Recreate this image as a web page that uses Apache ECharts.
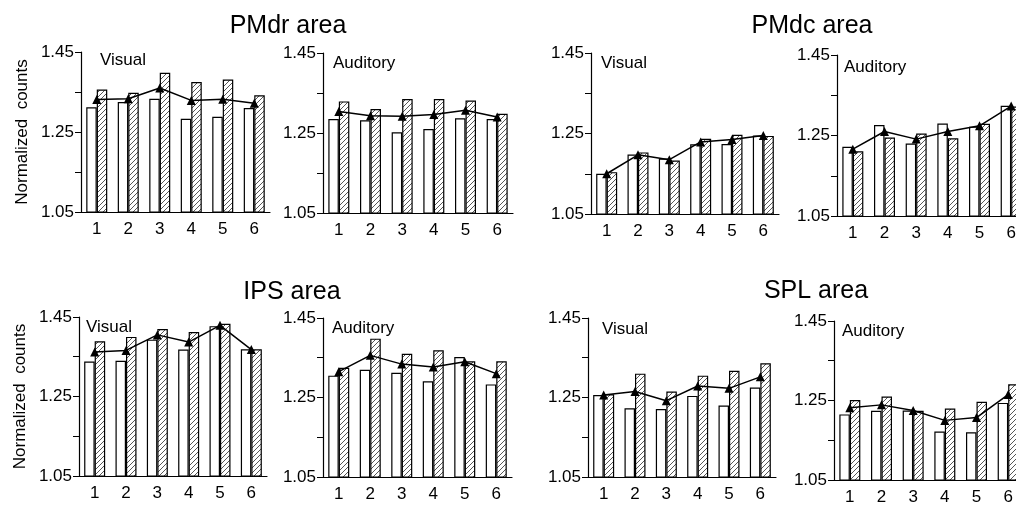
<!DOCTYPE html>
<html>
<head>
<meta charset="utf-8">
<script src="https://cdn.jsdelivr.net/npm/echarts@6/dist/echarts.min.js"></script>
<style>
  html, body { margin: 0; padding: 0; background: #fff; overflow: hidden; }
  #chart { width: 1040px; height: 507px; }
</style>
</head>
<body>
<div id="chart"></div>
<script>
// 横轴类别与纵轴刻度
const xCategories = ['1', '2', '3', '4', '5', '6'];
const yTickValues = [1.05, 1.15, 1.25, 1.35, 1.45];
const yLabelValues = [1.05, 1.25, 1.45];

// PMdr area
const pmdrVisualOpen = [1.312, 1.325, 1.333, 1.283, 1.288, 1.310];
const pmdrVisualHatched = [1.356, 1.348, 1.398, 1.375, 1.381, 1.342];
const pmdrVisualLine = [1.331, 1.333, 1.360, 1.329, 1.332, 1.322];
const pmdrAuditoryOpen = [1.285, 1.282, 1.252, 1.260, 1.287, 1.285];
const pmdrAuditoryHatched = [1.329, 1.310, 1.335, 1.335, 1.331, 1.298];
const pmdrAuditoryLine = [1.304, 1.293, 1.292, 1.296, 1.307, 1.290];

// PMdc area
const pmdcVisualOpen = [1.150, 1.198, 1.188, 1.223, 1.224, 1.245];
const pmdcVisualHatched = [1.154, 1.203, 1.183, 1.237, 1.247, 1.244];
const pmdcVisualLine = [1.150, 1.197, 1.185, 1.229, 1.235, 1.245];
const pmdcAuditoryOpen = [1.222, 1.276, 1.230, 1.280, 1.272, 1.324];
const pmdcAuditoryHatched = [1.211, 1.245, 1.255, 1.243, 1.279, 1.322];
const pmdcAuditoryLine = [1.216, 1.260, 1.241, 1.260, 1.274, 1.323];

// IPS area
const ipsVisualOpen = [1.338, 1.340, 1.393, 1.368, 1.427, 1.369];
const ipsVisualHatched = [1.389, 1.400, 1.420, 1.412, 1.433, 1.369];
const ipsVisualLine = [1.362, 1.366, 1.405, 1.387, 1.429, 1.368];
const ipsAuditoryOpen = [1.305, 1.320, 1.312, 1.291, 1.352, 1.283];
const ipsAuditoryHatched = [1.325, 1.398, 1.360, 1.369, 1.341, 1.341];
const ipsAuditoryLine = [1.315, 1.356, 1.334, 1.327, 1.340, 1.310];

// SPL area
const splVisualOpen = [1.256, 1.223, 1.221, 1.254, 1.230, 1.275];
const splVisualHatched = [1.258, 1.310, 1.265, 1.305, 1.317, 1.336];
const splVisualLine = [1.256, 1.265, 1.242, 1.279, 1.273, 1.302];
const splAuditoryOpen = [1.215, 1.224, 1.225, 1.172, 1.170, 1.244];
const splAuditoryHatched = [1.251, 1.260, 1.224, 1.230, 1.247, 1.291];
const splAuditoryLine = [1.232, 1.239, 1.225, 1.200, 1.207, 1.265];

const panelData = [
    { open: pmdrVisualOpen, hatched: pmdrVisualHatched, line: pmdrVisualLine, label: 'Visual' },
    { open: pmdrAuditoryOpen, hatched: pmdrAuditoryHatched, line: pmdrAuditoryLine, label: 'Auditory' },
    { open: pmdcVisualOpen, hatched: pmdcVisualHatched, line: pmdcVisualLine, label: 'Visual' },
    { open: pmdcAuditoryOpen, hatched: pmdcAuditoryHatched, line: pmdcAuditoryLine, label: 'Auditory' },
    { open: ipsVisualOpen, hatched: ipsVisualHatched, line: ipsVisualLine, label: 'Visual' },
    { open: ipsAuditoryOpen, hatched: ipsAuditoryHatched, line: ipsAuditoryLine, label: 'Auditory' },
    { open: splVisualOpen, hatched: splVisualHatched, line: splVisualLine, label: 'Visual' },
    { open: splAuditoryOpen, hatched: splAuditoryHatched, line: splAuditoryLine, label: 'Auditory' }
];

// 每个小图的位置 (像素)
const gridBoxes = [
    { left: 81, top: 52, width: 189, height: 160 },
    { left: 323, top: 53, width: 190, height: 160 },
    { left: 591, top: 53, width: 188, height: 161 },
    { left: 837, top: 55, width: 190, height: 161 },
    { left: 79, top: 317, width: 188, height: 159 },
    { left: 323, top: 318, width: 189, height: 159 },
    { left: 588, top: 318, width: 188, height: 159 },
    { left: 834, top: 321, width: 190, height: 159 }
];

// 区域标题
const areaTitles = [
    { text: 'PMdr area', x: 288, y: 26 },
    { text: 'PMdc area', x: 812, y: 26 },
    { text: 'IPS area', x: 292, y: 292 },
    { text: 'SPL area', x: 816, y: 291 }
];

// 小图内的 Visual / Auditory 标签位置
const innerLabelPos = [
    { x: 100, y: 60 }, { x: 333, y: 63 }, { x: 601, y: 63 }, { x: 844, y: 67 },
    { x: 86, y: 327 }, { x: 332, y: 328 }, { x: 602, y: 329 }, { x: 842, y: 331 }
];

const FONT = '"Liberation Sans", Arial, Helvetica, sans-serif';

// 斜线填充
function makeHatch() {
    const size = 5;
    const c = document.createElement('canvas');
    c.width = size;
    c.height = size;
    const ctx = c.getContext('2d');
    ctx.fillStyle = '#fff';
    ctx.fillRect(0, 0, size, size);
    ctx.strokeStyle = '#444';
    ctx.lineWidth = 0.9;
    ctx.beginPath();
    ctx.moveTo(0, size); ctx.lineTo(size, 0);
    ctx.moveTo(-1, 1); ctx.lineTo(1, -1);
    ctx.moveTo(size - 1, size + 1); ctx.lineTo(size + 1, size - 1);
    ctx.stroke();
    return c;
}

function buildOption() {
    const hatch = { image: makeHatch(), repeat: 'repeat' };
    const grid = [], xAxis = [], yAxis = [], series = [], graphic = [];

    gridBoxes.forEach((box, i) => {
        grid.push(Object.assign({ containLabel: false }, box));

        xAxis.push({
            type: 'category',
            gridIndex: i,
            data: xCategories,
            axisLine: { lineStyle: { color: '#000', width: 1.2 } },
            axisTick: { show: false },
            axisLabel: { color: '#000', fontSize: 17, fontFamily: FONT, margin: 9 },
            splitLine: { show: false }
        });

        const showName = i === 0 || i === 4;
        yAxis.push({
            type: 'value',
            gridIndex: i,
            min: 1.05,
            max: 1.45,
            name: showName ? 'Normalized  counts' : '',
            nameLocation: 'middle',
            nameRotate: 90,
            nameGap: 50,
            nameTextStyle: { color: '#000', fontSize: 17, fontFamily: FONT },
            axisLine: { show: true, lineStyle: { color: '#000', width: 1.2 } },
            axisTick: { show: true, length: 6, customValues: yTickValues, lineStyle: { color: '#000', width: 1 } },
            axisLabel: {
                color: '#000', fontSize: 17, fontFamily: FONT, margin: 7,
                customValues: yLabelValues,
                formatter: v => v.toFixed(2)
            },
            splitLine: { show: false }
        });

        const d = panelData[i];
        series.push({
            type: 'bar',
            xAxisIndex: i,
            yAxisIndex: i,
            data: d.open,
            barWidth: 10.5,
            barGap: '0%',
            itemStyle: { color: '#fff', borderColor: '#000', borderWidth: 1.2 },
            silent: true
        });
        series.push({
            type: 'bar',
            xAxisIndex: i,
            yAxisIndex: i,
            data: d.hatched,
            barWidth: 10.5,
            barGap: '0%',
            itemStyle: { color: hatch, borderColor: '#000', borderWidth: 1.2 },
            silent: true
        });
        series.push({
            type: 'line',
            xAxisIndex: i,
            yAxisIndex: i,
            data: d.line,
            symbol: 'triangle',
            symbolSize: 9,
            lineStyle: { color: '#000', width: 1.5 },
            itemStyle: { color: '#000' },
            z: 5,
            silent: true
        });

        graphic.push({
            type: 'text',
            x: innerLabelPos[i].x,
            y: innerLabelPos[i].y,
            style: {
                text: d.label, fill: '#000', font: '17px ' + FONT,
                textAlign: 'left', textVerticalAlign: 'middle'
            }
        });
    });

    areaTitles.forEach(t => {
        graphic.push({
            type: 'text',
            x: t.x,
            y: t.y,
            style: {
                text: t.text, fill: '#000', font: '25px ' + FONT,
                textAlign: 'center', textVerticalAlign: 'middle'
            }
        });
    });

    return { backgroundColor: '#fff', animation: false, grid, xAxis, yAxis, series, graphic };
}

window.addEventListener('load', () => {
    const chart = echarts.init(document.getElementById('chart'), null, { renderer: 'canvas' });
    chart.setOption(buildOption());
});
</script>
</body>
</html>
